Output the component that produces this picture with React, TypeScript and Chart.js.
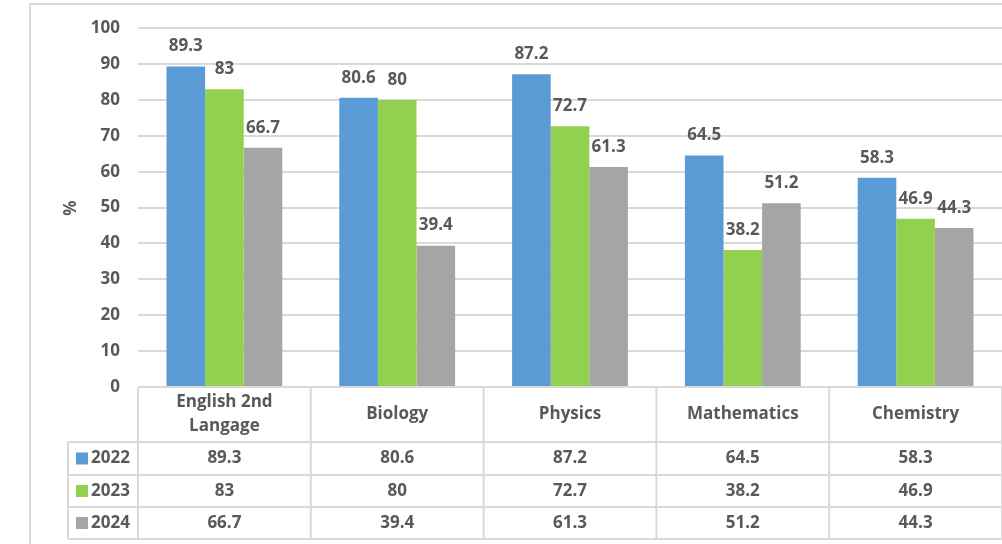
import React, { useEffect, useRef } from "react";
import { Chart, registerables } from "chart.js";

Chart.register(...registerables);

const categories: string[][] = [["English 2nd", "Langage"], ["Biology"], ["Physics"], ["Mathematics"], ["Chemistry"]];
const seriesNames = ["2022", "2023", "2024"];
const values2022 = [89.3, 80.6, 87.2, 64.5, 58.3];
const values2023 = [83, 80, 72.7, 38.2, 46.9];
const values2024 = [66.7, 39.4, 61.3, 51.2, 44.3];
const colors = ["#5B9BD5", "#92D050", "#A5A5A5"];
const yTicks = [0, 10, 20, 30, 40, 50, 60, 70, 80, 90, 100];

const FONT = "'Open Sans', Lato, sans-serif";
const TEXT = "#595959";
const LINE = "#D9D9D9";
const FS = 17;

const tablePlugin = {
  id: "tablePlugin",
  beforeDraw(chart: any) {
    const ctx = chart.ctx;
    ctx.save();
    ctx.strokeStyle = LINE;
    ctx.lineWidth = 2;
    ctx.beginPath();
    ctx.moveTo(30, 544);
    ctx.lineTo(30, 4);
    ctx.lineTo(1002, 4);
    ctx.stroke();
    ctx.restore();
  },
  afterDraw(chart: any) {
    const ctx = chart.ctx;
    const xs = chart.scales.x;
    const area = chart.chartArea;
    const allSeries = [values2022, values2023, values2024];
    ctx.save();
    // data labels
    ctx.font = `bold ${FS}px ${FONT}`;
    ctx.fillStyle = TEXT;
    ctx.textAlign = "center";
    ctx.textBaseline = "middle";
    allSeries.forEach((vals, di) => {
      const meta = chart.getDatasetMeta(di);
      meta.data.forEach((bar: any, i: number) => {
        ctx.fillText(String(vals[i]), bar.x, bar.y - 20);
      });
    });
    // % title
    ctx.save();
    ctx.translate(71, 208);
    ctx.rotate(-Math.PI / 2);
    ctx.fillText("%", 0, 0);
    ctx.restore();

    // table
    const top = area.bottom;
    const rowYs = [442, 475, 507, 539];
    const legendLeft = 68;
    const n = categories.length;
    const w = (area.right - area.left) / n;
    const bounds: number[] = [];
    for (let i = 0; i <= n; i++) bounds.push(area.left + i * w);
    ctx.strokeStyle = LINE;
    ctx.lineWidth = 2;
    ctx.beginPath();
    ctx.moveTo(area.left, top);
    ctx.lineTo(1002, top);
    rowYs.forEach((y) => {
      ctx.moveTo(legendLeft, y);
      ctx.lineTo(1002, y);
    });
    bounds.forEach((x) => {
      ctx.moveTo(x, top);
      ctx.lineTo(x, rowYs[rowYs.length - 1]);
    });
    ctx.moveTo(legendLeft, rowYs[0]);
    ctx.lineTo(legendLeft, rowYs[rowYs.length - 1]);
    ctx.stroke();

    ctx.fillStyle = TEXT;
    ctx.font = `bold ${FS}px ${FONT}`;
    ctx.textAlign = "center";
    categories.forEach((lines, i) => {
      const cx = xs.getPixelForValue(i);
      const cy = (top + rowYs[0]) / 2;
      const lh = 24;
      lines.forEach((line, li) => {
        ctx.fillText(line, cx, cy + (li - (lines.length - 1) / 2) * lh);
      });
    });
    allSeries.forEach((vals, r) => {
      const cy = (rowYs[r] + rowYs[r + 1]) / 2;
      vals.forEach((v, i) => {
        ctx.fillText(String(v), xs.getPixelForValue(i), cy);
      });
      ctx.fillStyle = colors[r];
      ctx.fillRect(76, cy - 6, 12, 12);
      ctx.fillStyle = TEXT;
      ctx.textAlign = "left";
      ctx.fillText(seriesNames[r], 91, cy);
      ctx.textAlign = "center";
    });
    ctx.restore();
  },
};

export default function App() {
  const ref = useRef<HTMLCanvasElement | null>(null);
  useEffect(() => {
    if (!ref.current) return;
    const chart = new Chart(ref.current, {
      type: "bar",
      data: {
        labels: categories.map((c) => c.join(" ")),
        datasets: [values2022, values2023, values2024].map((vals, i) => ({
          label: seriesNames[i],
          data: vals,
          backgroundColor: colors[i],
          borderWidth: 0,
          categoryPercentage: 0.67,
          barPercentage: 1,
        })),
      },
      options: {
        responsive: false,
        animation: false,
        layout: { padding: { left: 30, top: 28, right: 0, bottom: 0 } },
        plugins: { legend: { display: false }, tooltip: { enabled: false }, title: { display: false } },
        scales: {
          x: {
            grid: { display: false },
            border: { display: false },
            ticks: { display: false },
            afterFit: (s: any) => {
              s.height = 157;
            },
          },
          y: {
            min: 0,
            max: 100,
            afterBuildTicks: (s: any) => {
              s.ticks = yTicks.map((v) => ({ value: v }));
            },
            grid: { color: LINE, lineWidth: 2, drawTicks: false },
            border: { display: false },
            ticks: {
              color: TEXT,
              font: { family: FONT, size: FS, weight: "bold" },
              padding: 18,
            },
            afterFit: (s: any) => {
              s.width = 108;
            },
          },
        },
      },
      plugins: [tablePlugin],
    });
    return () => chart.destroy();
  }, []);
  return (
    <div style={{ position: "fixed", left: 0, top: 0, width: 1002, height: 544, background: "#fff" }}>
      <canvas ref={ref} width={1002} height={544} />
    </div>
  );
}
